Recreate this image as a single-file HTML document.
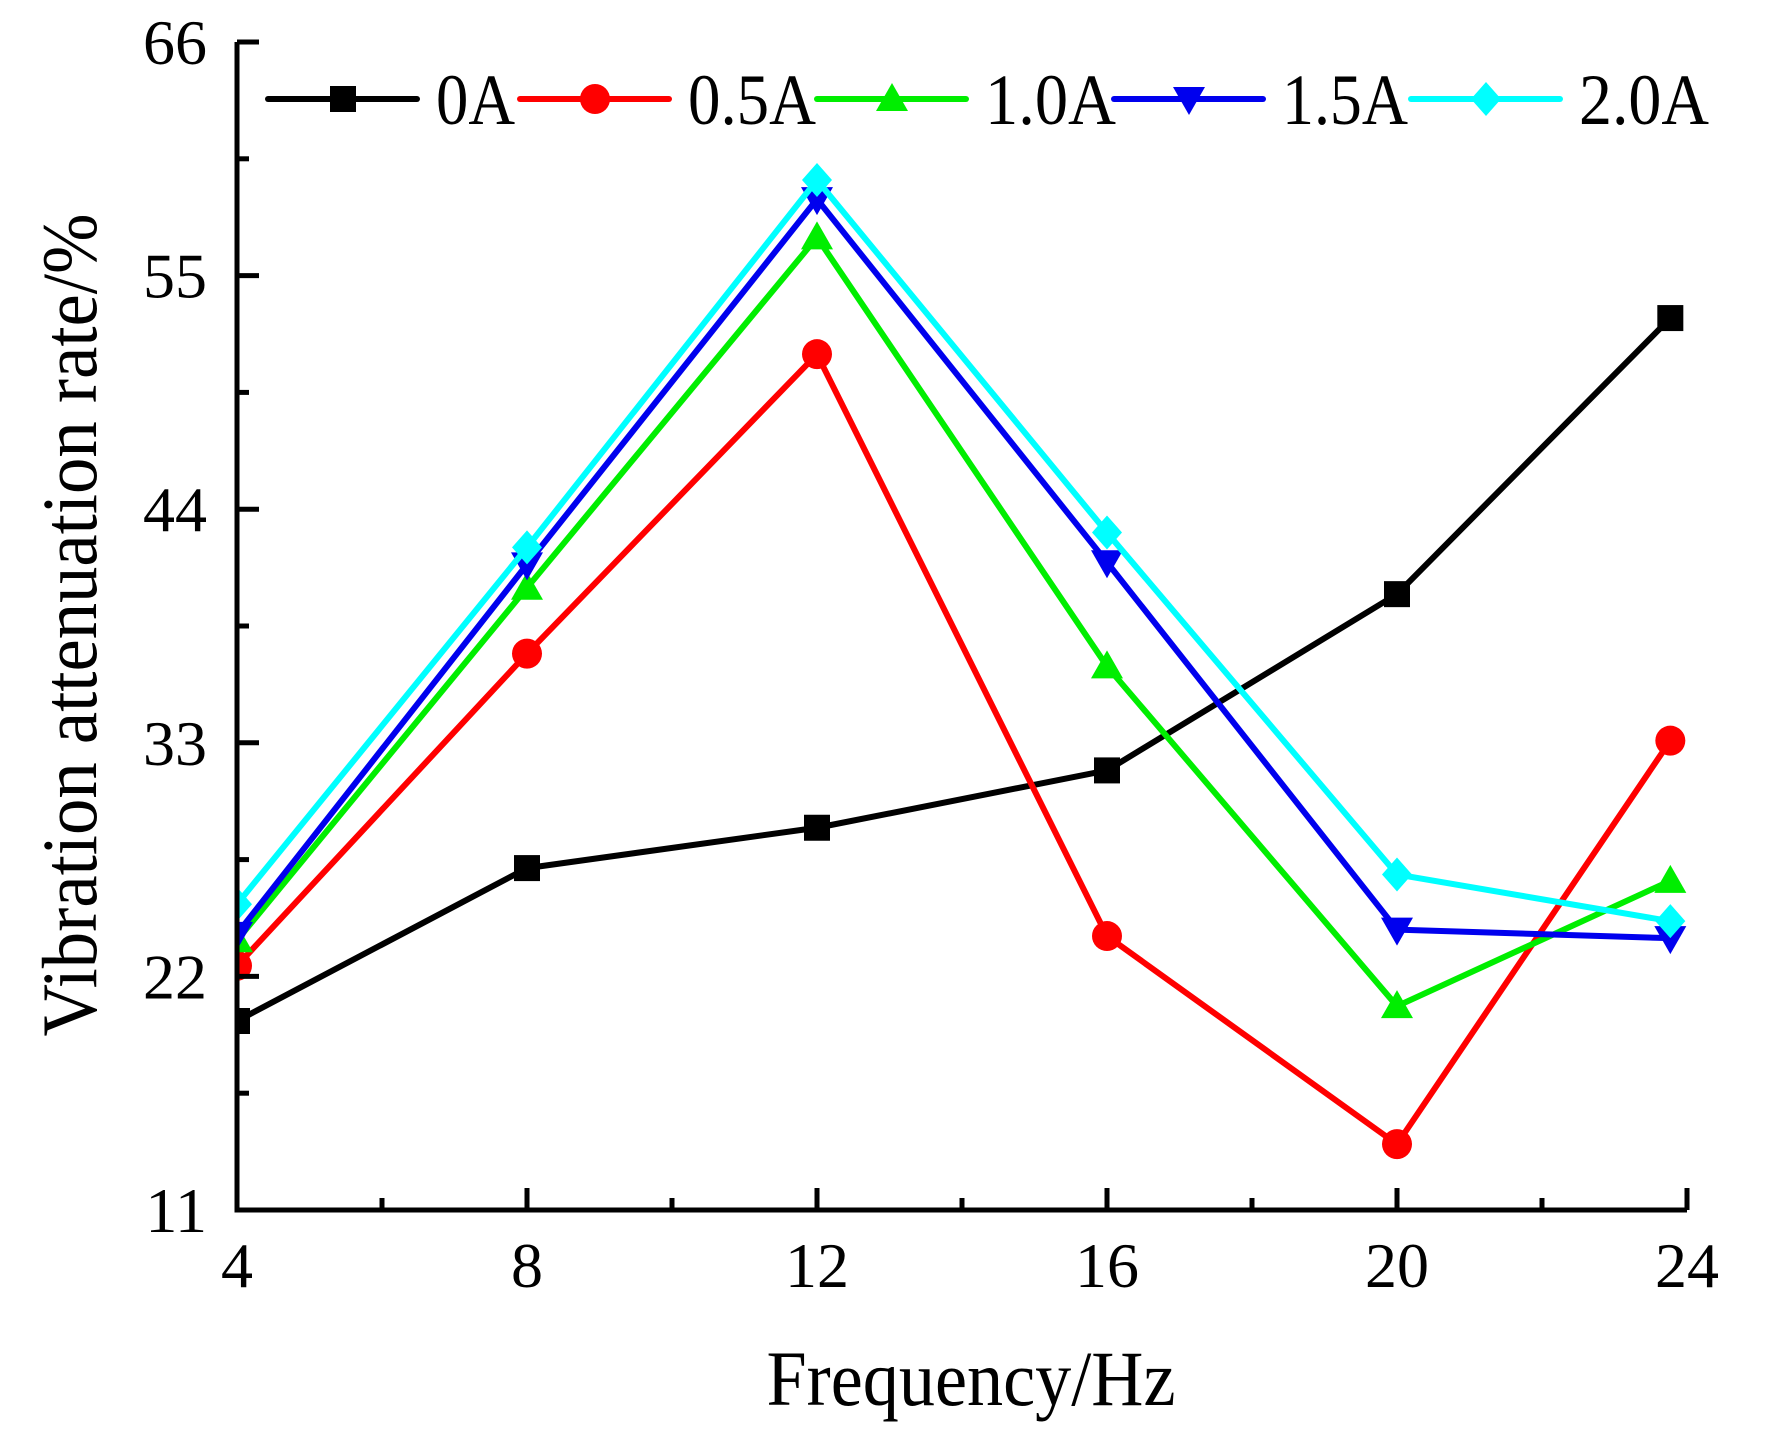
<!DOCTYPE html>
<html><head><meta charset="utf-8"><style>
html,body{margin:0;padding:0;background:#fff;}
svg{display:block;}
text{font-family:"Liberation Serif",serif;fill:#000;}
</style></head><body>
<svg id="chart" width="1771" height="1433" viewBox="0 0 1771 1433">
<defs><clipPath id="plotclip"><rect x="239" y="0" width="1500" height="1210"/></clipPath></defs>
<g id="plot" clip-path="url(#plotclip)"></g>
<g id="axes"></g>
<g id="legend"></g>
<text x="971" y="1405" font-size="78" text-anchor="middle" textLength="409" lengthAdjust="spacingAndGlyphs">Frequency/Hz</text>
<text transform="translate(96,625) rotate(-90)" font-size="78" text-anchor="middle" textLength="823" lengthAdjust="spacingAndGlyphs">Vibration attenuation rate/%</text>
</svg>
<script>
const xCats = [4, 8, 12, 16, 20, 23.77];
const xTicks = [4, 8, 12, 16, 20, 24];
const xTickLabels = ["4", "8", "12", "16", "20", "24"];
const yTicks = [11, 22, 33, 44, 55, 66];
const yTickLabels = ["11", "22", "33", "44", "55", "66"];
const seriesNames = ["0A", "0.5A", "1.0A", "1.5A", "2.0A"];
const s0A = [19.9, 27.1, 29.0, 31.7, 40.0, 53.0];
const s05A = [22.5, 37.2, 51.3, 23.9, 14.1, 33.1];
const s10A = [23.7, 40.3, 56.8, 36.6, 20.6, 26.5];
const s15A = [24.0, 41.4, 58.6, 41.5, 24.2, 23.8];
const s20A = [25.4, 42.2, 59.5, 42.9, 26.8, 24.6];

const NS = "http://www.w3.org/2000/svg";
const X0 = 237, X1 = 1687, Y0 = 1210, Y1 = 42;
const xs = v => X0 + (v - 4) / 20 * (X1 - X0);
const ys = v => Y0 - (v - 11) / 55 * (Y0 - Y1);
function mk(tag, attrs, parent) { const e = document.createElementNS(NS, tag); for (const k in attrs) e.setAttribute(k, attrs[k]); parent.appendChild(e); return e; }

const axes = document.getElementById('axes');
let p = mk('path', {d: `M${X0} ${Y1}V${Y0}H${X1}`, fill: 'none', stroke: '#000', 'stroke-width': 5}, axes);


yTicks.forEach((v, i) => {
  const t = mk('line', {x1: X0, x2: X0 + 22, y1: ys(v), y2: ys(v), stroke: '#000', 'stroke-width': 5}, axes);
  
  
  if (i < yTicks.length - 1) {
    const m = mk('line', {x1: X0, x2: X0 + 12, y1: ys(v + 5.5), y2: ys(v + 5.5), stroke: '#000', 'stroke-width': 5}, axes);
    
    
  }
  const l = mk('text', {x: 207, y: ys(v) + 22, 'font-size': 64, 'text-anchor': 'end'}, axes);
  l.textContent = yTickLabels[i];
  
  
});
xTicks.forEach((v, i) => {
  const t = mk('line', {x1: xs(v), x2: xs(v), y1: Y0, y2: Y0 - 22, stroke: '#000', 'stroke-width': 5}, axes);
  
  
  if (i < xTicks.length - 1) {
    const m = mk('line', {x1: xs(v + 2), x2: xs(v + 2), y1: Y0, y2: Y0 - 12, stroke: '#000', 'stroke-width': 5}, axes);
    
    
  }
  const l = mk('text', {x: xs(v), y: 1287, 'font-size': 64, 'text-anchor': 'middle'}, axes);
  l.textContent = xTickLabels[i];
  
  
});

const colors = ['#000000', '#ff0000', '#00ee00', '#0000ee', '#00ffff'];
const shapes = ['square', 'circle', 'tri', 'tridown', 'diamond'];
const allSeries = [s0A, s05A, s10A, s15A, s20A];
function marker(shape, cx, cy, color, parent) {
  const r = 14;
  let e;
  if (shape === 'square') e = mk('rect', {x: cx - 13, y: cy - 13, width: 26, height: 26, fill: color}, parent);
  else if (shape === 'circle') e = mk('circle', {cx, cy, r: 15, fill: color}, parent);
  else if (shape === 'tri') e = mk('polygon', {points: `${cx},${cy - r - 2} ${cx + r + 2},${cy + r - 2} ${cx - r - 2},${cy + r - 2}`, fill: color}, parent);
  else if (shape === 'tridown') e = mk('polygon', {points: `${cx},${cy + r + 2} ${cx + r + 2},${cy - r + 2} ${cx - r - 2},${cy - r + 2}`, fill: color}, parent);
  else e = mk('polygon', {points: `${cx},${cy - 17} ${cx + 15},${cy} ${cx},${cy + 17} ${cx - 15},${cy}`, fill: color}, parent);
  return e;
}
const plot = document.getElementById('plot');
allSeries.forEach((vals, si) => {
  const g = mk('g', {}, plot);
  
  
  const pts = vals.map((v, i) => `${xs(xCats[i])},${ys(v)}`).join(' ');
  const ln = mk('polyline', {points: pts, fill: 'none', stroke: colors[si], 'stroke-width': 6, 'stroke-linejoin': 'round'}, g);
  
  
  vals.forEach((v, i) => {
    const m = marker(shapes[si], xs(xCats[i]), ys(v), colors[si], g);
    
    
  });
});

const legend = document.getElementById('legend');
const legX = [268, 520, 817, 1114, 1411];
const legW = [79, 128, 131, 126, 130];
seriesNames.forEach((n, i) => {
  const g = mk('g', {}, legend);
  
  
  mk('line', {x1: legX[i], x2: legX[i] + 149, y1: 99, y2: 99, stroke: colors[i], 'stroke-width': 6, 'stroke-linecap': 'round'}, g);
  marker(shapes[i], legX[i] + 75, 99, colors[i], g);
  const t = mk('text', {x: legX[i] + 168, y: 124, 'font-size': 72, textLength: legW[i], lengthAdjust: 'spacingAndGlyphs'}, g);
  t.textContent = n;
});
</script>
</body></html>
